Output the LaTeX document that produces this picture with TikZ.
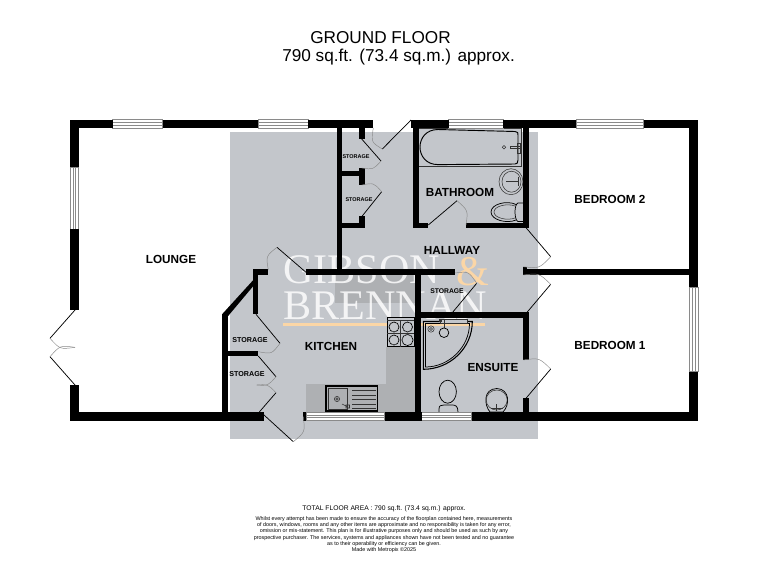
\documentclass[tikz,border=0pt]{standalone}
\usepackage{fontspec}
\setmainfont{Liberation Sans}
\newfontfamily\wmfont{Liberation Serif}
\usetikzlibrary{calc}
\definecolor{plangrey}{HTML}{C3C6CB}
\definecolor{counter}{HTML}{AEB0B3}
\definecolor{wmorange}{HTML}{FBD6A6}
\definecolor{linegrey}{HTML}{8A8A8A}
\tikzset{
  x=0.75pt,y=-0.75pt,
  wallfill/.style={fill=black},
  winpane/.style={fill=white,draw=linegrey,line width=0.4pt},
  leaf/.style={draw=black,line width=0.55pt},
  swing/.style={draw=linegrey,line width=0.35pt},
  fitting/.style={draw=black,line width=0.55pt},
  fittingthin/.style={draw=black!80,line width=0.4pt},
  room/.style={font=\bfseries\fontsize{8.8}{10}\selectfont,inner sep=0pt},
  store/.style={font=\bfseries\fontsize{5.35}{6}\selectfont,inner sep=0pt},
  storesmall/.style={font=\bfseries\fontsize{4.1}{5}\selectfont,inner sep=0pt},
  titletext/.style={font=\fontsize{12.9}{15}\selectfont,inner sep=0pt,anchor=base west},
  finetext/.style={inner sep=0pt,align=center,font=\fontsize{4.05}{4.6}\selectfont},
  wm/.style={font=\wmfont\fontsize{31.6}{32}\selectfont,inner sep=0pt,anchor=base west,text=white,text opacity=0.82},
}
\newcommand{\wallbox}[4]{\fill[wallfill] (#1,#2) rectangle (#3,#4);}
\newcommand{\hwin}[3]{%
  \path[winpane] (#1,#2) rectangle (#3,#2+8.5);
  \draw[linegrey,line width=0.4pt] (#1,#2+3.2) -- (#3,#2+3.2) (#1,#2+5.3) -- (#3,#2+5.3);}
\newcommand{\vwin}[3]{%
  \path[winpane] (#2,#1) rectangle (#2+8.7,#3);
  \draw[linegrey,line width=0.4pt] (#2+3.2,#1) -- (#2+3.2,#3) (#2+5.5,#1) -- (#2+5.5,#3);}
\newcommand{\doorleaf}[3]{% hinge, tip, end of swing
  \draw[leaf] (#1) -- (#2);
  \draw[swing] (#2) .. controls ($0.6*(#2)+0.6*(#3)-0.2*(#1)$) .. (#3);}
\begin{document}
\begin{tikzpicture}
\useasboundingbox (0,0) rectangle (768,576);
\fill[white] (0,0) rectangle (768,576);
% shaded watermark panel
\fill[plangrey] (230,132.3) rectangle (537.7,439);
\fill[counter] (335,275) rectangle (415,303.3);
\fill[counter] (305.7,384) rectangle (415,412);
\fill[counter] (385.7,347) rectangle (415,412);
% watermark
\node[wm] (wmA) at (283,283) {GIBSON};
\node[wm] (wmB) at (283,319) {BRENNAN};
\node[wm,text=wmorange,text opacity=1] (wmC) at (456,285) {\&};
\fill[wmorange] (283,323) rectangle (485,326);
% bath
\draw[fittingthin,fill=plangrey] (418.7,128) rectangle (521.7,166);
\draw[fitting,line width=0.7pt] (438,129.5) -- (515,131.5) .. controls (518,131.5) and (518,133) .. (518,135) -- (518,160)
   .. controls (518,163) and (517,164) .. (515,164) -- (438,164.6)
   .. controls (414,164.6) and (414,129.5) .. (438,129.5) -- cycle;
\draw[fittingthin] (504,147.3) circle (1.7);
\draw[fittingthin] (510,148.3) rectangle (520,145.8);
\draw[fittingthin] (517,143) rectangle (520,153);
% bathroom basin
\draw[fittingthin] (511,181.7) ellipse (12 and 13);
\draw[fittingthin] (511.5,181.7) ellipse (9.5 and 10.5);
\draw[fittingthin] (506,181.5) -- (519,181.5) (518,177) -- (518,186);
% bathroom toilet
\draw[fitting] (523,203) -- (518,203) .. controls (514,204) and (514,220) .. (518,221.5) -- (523,221.5);
\draw[fitting] (516,204.5) .. controls (507,200) and (491,204) .. (491,212) .. controls (491,220) and (507,224) .. (516,220);
\draw[fittingthin] (515,206) .. controls (507,203) and (494,206) .. (494,212) .. controls (494,218) and (507,221) .. (515,218);
% shower
\draw[fitting,line width=0.8pt] (423.3,321.5) -- (472.3,321.5) .. controls (472.3,348) and (450,369.3) .. (423.3,369.3) -- cycle;
\draw[fitting] (425.5,323.5) -- (469.5,323.5) .. controls (469.5,347) and (449,367) .. (425.5,367) -- cycle;
\fill[plangrey] (440,319) rectangle (468,323);
\draw[fittingthin] (440,319.5) rectangle (467,323);
\draw[fittingthin] (444,319.5) -- (444,327.5);
\draw[fittingthin] (439,321) rectangle (441,319);
\draw[fitting] (444,332.7) circle (4.8);
\draw[fittingthin] (431,329) circle (3.2);
\draw[fittingthin] (431,329) circle (1.5);
% ensuite toilet
\draw[fitting] (447.7,391.7) ellipse (8.7 and 11.5);
\draw[fitting] (439,412) -- (439,409) .. controls (439,405.5) and (441,405) .. (444,405) -- (452,405) .. controls (455,405) and (458,405.5) .. (458,412);
% ensuite basin
\draw[fitting] (490,412) .. controls (484,405) and (483,389) .. (496.7,388.5) .. controls (510,389) and (510,405) .. (503,412) -- cycle;
\draw[fittingthin] (496.7,400) ellipse (10.5 and 10);
\draw[fittingthin] (491,408) -- (503,408) (496.7,404) -- (496.7,411);
% hob
\draw[fitting,fill=plangrey] (387.3,317.3) rectangle (414,346.7);
\draw[fittingthin] (387.3,320) -- (414,320);
\draw[fittingthin] (400.6,320) -- (400.6,346.7) (387.3,333) -- (414,333);
\foreach \cx/\cy/\cr in {394/327/5,407.5/327/5,394/340/5,407.5/340/5.6}{
  \draw[fitting,dash pattern=on 2pt off 0.4pt,fill=plangrey] (\cx,\cy) circle (\cr);}
% sink
\draw[fitting,line width=0.8pt] (326,386) rectangle (377.7,411);
\draw[fittingthin] (328,388) rectangle (347.3,409);
\draw[fittingthin] (337,399) circle (2.6);
\draw[fittingthin] (337,399) circle (1.2);
\draw[fittingthin] (342,404) -- (348,407) (346,405) rectangle (349.5,408);
\foreach \ly in {390.5,395,399.5,404,408}{\draw[fittingthin] (352,\ly) -- (376,\ly);}
% windows
\hwin{112.7}{119.5}{162.7}
\hwin{258}{119.5}{308}
\hwin{448.7}{119.5}{503}
\hwin{576}{119.5}{643.7}
\hwin{306}{412}{384.7}
\hwin{421.7}{412}{471.7}
\vwin{167.3}{70}{229.3}
\vwin{287}{689.3}{371.7}
% outer walls
\wallbox{70}{119.5}{112.7}{128}
\wallbox{162.7}{119.5}{258}{128}
\wallbox{308}{119.5}{373.3}{128}
\wallbox{411}{119.5}{448.7}{128}
\wallbox{503}{119.5}{576}{128}
\wallbox{643.7}{119.5}{698}{128}
\wallbox{70}{119.5}{79}{167.3}
\wallbox{70}{229.3}{79}{310}
\wallbox{70}{385}{79}{421}
\wallbox{70}{412}{264}{421}
\wallbox{302.7}{412}{306}{420.7}
\wallbox{384.7}{412}{421.7}{420.7}
\wallbox{471.7}{412}{698}{420.7}
\wallbox{689.3}{119.5}{698}{287}
\wallbox{689.3}{371.7}{698}{420.7}
% storage cupboards, top
\wallbox{336.7}{128}{341.7}{272}
\wallbox{337}{171}{365}{176}
\wallbox{359.3}{128}{365}{139}
\wallbox{359.3}{167.7}{365}{185}
\wallbox{337}{222.7}{365}{227.7}
\wallbox{359.3}{215.7}{365}{227.7}
% central wall
\wallbox{306}{269.3}{455}{275.3}
\wallbox{522.7}{269}{690}{275.3}
\wallbox{522.7}{266.5}{527}{275.3}
% bathroom
\wallbox{412.7}{128}{418.7}{227.7}
\wallbox{412.7}{222.7}{428}{227.7}
\wallbox{466}{222.7}{529}{227.7}
\wallbox{523.3}{128}{529}{227.7}
% ensuite
\wallbox{415.3}{275}{420.7}{412}
\wallbox{415.3}{312.3}{529}{318.3}
\wallbox{523.3}{312.3}{529}{360}
\wallbox{523.3}{397.7}{529}{412}
% kitchen stores
\wallbox{253.3}{269.3}{268}{275.3}
\wallbox{253.3}{269.3}{258.3}{314.3}
\fill[wallfill] (253.3,280) -- (253.3,286) -- (227.7,316.5) -- (227.7,320) -- (222.3,320) -- (222.3,314) -- cycle;
\wallbox{222.3}{314}{227.7}{412}
\wallbox{222.3}{350.7}{258}{356}
% doors
\doorleaf{75,310}{50,338.3}{75,347.3}
\doorleaf{75,385}{50,356.7}{75,347.3}
\doorleaf{411,120}{382.3,149}{373.3,128}
\doorleaf{361.7,139}{381,161}{361.7,168}
\doorleaf{361.7,216.7}{381.7,191.7}{361.7,185}
\doorleaf{428.3,225}{457,200.7}{466,225}
\doorleaf{525.7,227.3}{550.7,256.7}{523.3,266.7}
\doorleaf{452.3,312.7}{476.7,283.3}{455,273}
\doorleaf{526.7,312.7}{550.7,284.3}{523.3,275}
\doorleaf{526,398.3}{550.7,369}{523.3,360}
\doorleaf{306,272.3}{277,247.3}{268.3,270}
\doorleaf{256,314.3}{280,343.3}{258.3,351.7}
\doorleaf{258.3,356}{276,376.7}{256.7,385}
\doorleaf{259.3,412}{276,392.7}{256.7,385}
\doorleaf{264,415}{293.3,441.7}{303.3,416.7}
% room labels
\node[room] (lounge) at (171,259) {LOUNGE};
\node[room] (kitchen) at (331,346) {KITCHEN};
\node[room] (bathroom) at (460,192) {BATHROOM};
\node[room] (hallway) at (452,250) {HALLWAY};
\node[room] (ensuite) at (493,367) {ENSUITE};
\node[room] (bedtwo) at (610,199) {BEDROOM 2};
\node[room] (bedone) at (610,345) {BEDROOM 1};
\node[store] (stA) at (250,340) {STORAGE};
\node[store] (stB) at (247,374) {STORAGE};
\node[storesmall] (stC) at (356,157) {STORAGE};
\node[storesmall] (stD) at (359,200) {STORAGE};
\node[store,font=\bfseries\fontsize{5.1}{6}\selectfont] (stE) at (447,291) {STORAGE};
% titles
\node[titletext] (titleA) at (310,43) {GROUND FLOOR};
\node[titletext] (titleB) at (282,61) {790 sq.ft. (73.4 sq.m.) approx.};
% footer
\node[inner sep=0pt,font=\fontsize{5.05}{6}\selectfont] (total) at (384,509) {TOTAL FLOOR AREA : 790 sq.ft. (73.4 sq.m.) approx.};
\node[finetext,anchor=north] (notes) at (384,516.5) {Whilst every attempt has been made to ensure the accuracy of the floorplan contained here, measurements\\
of doors, windows, rooms and any other items are approximate and no responsibility is taken for any error,\\
omission or mis-statement. This plan is for illustrative purposes only and should be used as such by any\\
prospective purchaser. The services, systems and appliances shown have not been tested and no guarantee\\
as to their operability or efficiency can be given.\\
Made with Metropix ©2025};
\end{tikzpicture}
\end{document}
